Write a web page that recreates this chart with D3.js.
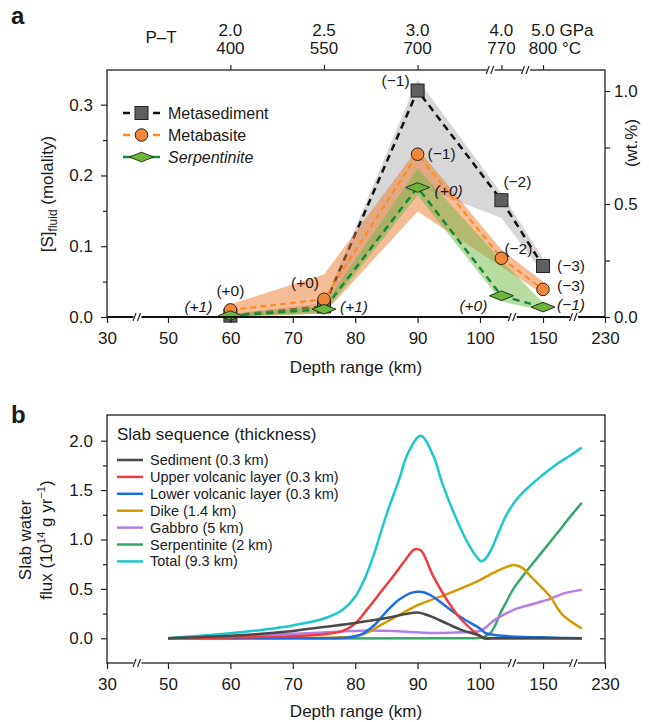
<!DOCTYPE html>
<html>
<head>
<meta charset="utf-8">
<script src="https://cdn.jsdelivr.net/npm/d3@7"></script>
<style>
  body { margin: 0; background: #fff; }
  svg { display: block; }
  text { font-family: "Liberation Sans", Arial, Helvetica, sans-serif; fill: #1a1a1a; }
</style>
</head>
<body>
<svg id="chart" width="649" height="722"></svg>
<script>
/* Two panels sharing a broken depth axis.
   a: sulfur concentration in slab fluids (three lithologies, with ranges)
   b: slab water flux per layer of the slab sequence                      */

// shared depth axis
var depthTicks = [30, 50, 60, 70, 80, 90, 100, 150, 230];
var depthBreaks = [40, 126, 190];

// panel a: depth of each P-T condition
var depthA = [60, 75, 90, 117, 150];
var pressureLbl = ['2.0', '2.5', '3.0', '4.0', '5.0'];
var tempLbl = ['400', '550', '700', '770', '800'];
var topBreaks = [108.5, 136.5];

var metased   = [0.002, 0.015, 0.320, 0.165, 0.072];
var metasedLo = [0.000, 0.008, 0.185, 0.140, 0.062];
var metasedHi = [0.004, 0.020, 0.336, 0.175, 0.083];
var metabas   = [0.010, 0.025, 0.230, 0.083, 0.039];
var metabasLo = [0.000, 0.005, 0.149, 0.071, 0.032];
var metabasHi = [0.018, 0.060, 0.238, 0.095, 0.050];
var serp      = [0.002, 0.011, 0.183, 0.030, 0.014];
var serpLo    = [0.000, 0.005, 0.172, 0.022, 0.009];
var serpHi    = [0.004, 0.016, 0.210, 0.080, 0.020];

var metasedCharge = [null, null, '(\u22121)', '(\u22122)', '(\u22123)'];
var metabasCharge = ['(+0)', '(+0)', '(\u22121)', '(\u22122)', '(\u22123)'];
var serpCharge    = ['(+1)', '(+1)', '(+0)', '(+0)', '(\u22121)'];

// panel b: slab water flux (10^14 g/yr)
var sedDepth = [50, 60, 65, 70, 75, 80, 85, 88, 90, 92, 95, 97, 100, 103, 110, 150, 200];
var sedFlux  = [0, 0.025, 0.045, 0.075, 0.115, 0.155, 0.205, 0.245, 0.262, 0.225, 0.14, 0.085, 0.025, 0, 0, 0, 0];
var uvlDepth = [50, 60, 70, 75, 78, 80, 82, 84, 86, 88, 89.5, 90.5, 92.5, 95, 97, 99, 101, 104, 110, 150, 200];
var uvlFlux  = [0, 0.008, 0.022, 0.04, 0.075, 0.15, 0.3, 0.46, 0.62, 0.79, 0.9, 0.89, 0.63, 0.36, 0.19, 0.07, 0.015, 0, 0, 0, 0];
var lvlDepth = [50, 70, 79, 81, 83, 85, 87, 89, 90.5, 92, 94, 97, 100, 104, 113, 130, 150, 175, 200];
var lvlFlux  = [0, 0.003, 0.008, 0.04, 0.13, 0.27, 0.39, 0.46, 0.47, 0.44, 0.35, 0.21, 0.10, 0.055, 0.03, 0.015, 0.01, 0.004, 0];
var dikeDepth = [50, 70, 78, 80, 82, 84, 86, 88, 90, 95, 100, 108, 116, 124, 128, 134, 140, 150, 159, 175, 200];
var dikeFlux  = [0, 0.003, 0.01, 0.02, 0.06, 0.13, 0.2, 0.27, 0.335, 0.455, 0.59, 0.645, 0.695, 0.735, 0.74, 0.71, 0.63, 0.5, 0.425, 0.24, 0.1];
var gabDepth = [50, 60, 70, 78, 82, 86, 90, 93, 97, 100, 103, 106, 110, 116, 122, 129, 140, 150, 159, 175, 200];
var gabFlux  = [0, 0.02, 0.045, 0.07, 0.08, 0.075, 0.06, 0.054, 0.06, 0.075, 0.095, 0.125, 0.17, 0.22, 0.26, 0.30, 0.34, 0.377, 0.398, 0.45, 0.49];
var serpDepth = [50, 95, 100, 104, 108, 112, 116, 121, 126, 134, 142, 150, 168, 185, 200];
var serpFlux  = [0, 0, 0.005, 0.02, 0.05, 0.13, 0.25, 0.37, 0.49, 0.63, 0.76, 0.885, 1.06, 1.23, 1.37];
var totDepth = [50, 55, 60, 65, 70, 75, 78, 80, 81.5, 83, 85, 87, 88.5, 90.5, 92.5, 94, 96, 98, 99.5, 101, 104, 109, 115, 121, 130, 142, 150, 168, 185, 200];
var totFlux  = [0, 0.025, 0.05, 0.085, 0.13, 0.2, 0.29, 0.42, 0.6, 0.85, 1.25, 1.6, 1.88, 2.05, 1.85, 1.56, 1.24, 0.97, 0.82, 0.78, 0.80, 0.90, 1.08, 1.25, 1.42, 1.57, 1.655, 1.765, 1.85, 1.93];

var layerNames = ['Sediment (0.3 km)', 'Upper volcanic layer (0.3 km)', 'Lower volcanic layer (0.3 km)',
  'Dike (1.4 km)', 'Gabbro (5 km)', 'Serpentinite (2 km)', 'Total (9.3 km)'];

(function () {
  'use strict';
  var svg = d3.select('#chart');
  var INK = '#1a1a1a';

  var x = d3.scaleLinear().domain([30, 50, 100, 150, 230]).range([107, 168, 480, 543, 605]);

  function styleAxis(g) {
    g.select('.domain').remove();
    g.selectAll('line').attr('stroke', '#222').attr('stroke-width', 1.2);
    g.selectAll('text').attr('font-size', 17).style('fill', INK);
  }

  function breakMark(g, xp, yp) {
    g.append('rect').attr('x', xp - 4).attr('y', yp - 3).attr('width', 8).attr('height', 6).attr('fill', '#fff');
    [-3, 1.5].forEach(function (o) {
      g.append('line')
        .attr('x1', xp + o - 1.5).attr('y1', yp + 4)
        .attr('x2', xp + o + 1.5).attr('y2', yp - 4)
        .attr('stroke', '#222').attr('stroke-width', 1.2);
    });
  }

  function frame(top, bottom) {
    svg.append('rect')
      .attr('x', x.range()[0]).attr('y', top)
      .attr('width', x.range()[4] - x.range()[0]).attr('height', bottom - top)
      .attr('fill', 'none').attr('stroke', '#222').attr('stroke-width', 1.3);
  }

  /* ---------------- panel a ---------------- */
  var ya = d3.scaleLinear().domain([0, 0.349]).range([317, 70]);
  var yw = d3.scaleLinear().domain([0, 1.093]).range([317, 70]);
  var ga = svg.append('g');

  var seriesA = [
    { vals: metased, lo: metasedLo, hi: metasedHi, charge: metasedCharge,
      band: '#bdbdbd', bandOp: 0.6, line: '#111', dash: '7,5', lw: 2.5, italic: false,
      marker: 'square', fill: '#5f5f5f',
      lab: [null, null, [-8, -5, 'end'], [2, -13, 'start'], [14, 5, 'start']] },
    { vals: metabas, lo: metabasLo, hi: metabasHi, charge: metabasCharge,
      band: '#ee7a2e', bandOp: 0.5, line: '#ff8a1a', dash: '6,4', lw: 2, italic: false,
      marker: 'circle', fill: '#f0873a',
      lab: [[0, -14, 'middle'], [-19, -11, 'middle'], [10, 5, 'start'], [3, -4, 'start'], [14, 2, 'start']] },
    { vals: serp, lo: serpLo, hi: serpHi, charge: serpCharge,
      band: '#72b744', bandOp: 0.5, line: '#17893a', dash: '7,5', lw: 2.5, italic: true,
      marker: 'diamond', fill: '#6cb43f',
      lab: [[-18, -4, 'end'], [16, 3, 'start'], [17, 9, 'start'], [-14, 15, 'end'], [14, 3, 'start']] }
  ];

  // bands and dashed lines, in stacking order
  seriesA.forEach(function (s) {
    var area = d3.area()
      .x(function (d, i) { return x(depthA[i]); })
      .y0(function (d, i) { return ya(s.lo[i]); })
      .y1(function (d, i) { return ya(s.hi[i]); });
    ga.append('path').datum(s.vals).attr('d', area)
      .attr('fill', s.band).attr('fill-opacity', s.bandOp);
    var line = d3.line()
      .x(function (d, i) { return x(depthA[i]); })
      .y(function (d) { return ya(d); });
    ga.append('path').datum(s.vals).attr('d', line)
      .attr('fill', 'none').attr('stroke', s.line).attr('stroke-width', s.lw)
      .attr('stroke-dasharray', s.dash);
  });

  function drawMarker(g, type, cx, cy, fill) {
    if (type === 'square') {
      g.append('rect').attr('x', cx - 6.5).attr('y', cy - 6.5).attr('width', 13).attr('height', 13)
        .attr('fill', fill).attr('stroke', '#222').attr('stroke-width', 1);
    } else if (type === 'circle') {
      g.append('circle').attr('cx', cx).attr('cy', cy).attr('r', 6.3)
        .attr('fill', fill).attr('stroke', '#3a2410').attr('stroke-width', 1);
    } else {
      g.append('path').attr('d', 'M' + (cx - 12) + ',' + cy + 'L' + cx + ',' + (cy - 4.8) +
        'L' + (cx + 12) + ',' + cy + 'L' + cx + ',' + (cy + 4.8) + 'Z')
        .attr('fill', fill).attr('stroke', '#1f3a12').attr('stroke-width', 1);
    }
  }

  seriesA.forEach(function (s) {
    s.vals.forEach(function (v, i) {
      drawMarker(ga, s.marker, x(depthA[i]), ya(v), s.fill);
    });
  });

  // charge annotations
  seriesA.forEach(function (s) {
    s.vals.forEach(function (v, i) {
      if (!s.charge[i]) return;
      var p = s.lab[i];
      ga.append('text')
        .attr('x', x(depthA[i]) + p[0]).attr('y', ya(v) + p[1])
        .attr('text-anchor', p[2]).attr('font-size', 15.5)
        .style('font-style', s.italic ? 'italic' : 'normal')
        .text(s.charge[i]);
    });
  });

  frame(70, 317);

  // left axis (molality)
  svg.append('g').attr('transform', 'translate(107,0)')
    .call(d3.axisLeft(ya).tickValues([0, 0.1, 0.2, 0.3]).tickSize(6).tickPadding(8).tickFormat(d3.format('.1f')))
    .call(styleAxis);
  svg.append('g').attr('transform', 'translate(107,0)')
    .call(d3.axisLeft(ya).tickValues([0.05, 0.15, 0.25]).tickSize(4).tickFormat(''))
    .call(styleAxis);
  // right axis (wt.%)
  svg.append('g').attr('transform', 'translate(605,0)')
    .call(d3.axisRight(yw).tickValues([0, 0.5, 1.0]).tickSize(5).tickPadding(4).tickFormat(d3.format('.1f')))
    .call(styleAxis);
  svg.append('g').attr('transform', 'translate(605,0)')
    .call(d3.axisRight(yw).tickValues([0.25, 0.75]).tickSize(5).tickFormat(''))
    .call(styleAxis);
  // bottom depth axis
  svg.append('g').attr('transform', 'translate(0,317)')
    .call(d3.axisBottom(x).tickValues(depthTicks).tickSize(6).tickPadding(9).tickFormat(d3.format('d')))
    .call(styleAxis);
  svg.append('line').attr('x1', 107).attr('x2', 605).attr('y1', 317).attr('y2', 317)
    .attr('stroke', '#111').attr('stroke-width', 2);
  depthBreaks.forEach(function (d) { breakMark(svg, x(d), 317); });

  // top P-T axis
  svg.append('g').attr('transform', 'translate(0,70)')
    .call(d3.axisTop(x).tickValues(depthA).tickSize(5).tickFormat(''))
    .call(styleAxis);
  topBreaks.forEach(function (d) { breakMark(svg, x(d), 70); });

  function unitLabel(txt, unit, xp, yp) {
    var t = svg.append('text').attr('x', xp).attr('y', yp).attr('font-size', 17).text(txt);
    var w = t.node().getComputedTextLength();
    if (unit) {
      t.attr('x', xp - w / 2).text(txt + ' ' + unit);
    } else {
      t.attr('text-anchor', 'middle');
    }
  }
  depthA.forEach(function (d, i) {
    var last = i === depthA.length - 1;
    unitLabel(pressureLbl[i], last ? 'GPa' : null, x(d), 36);
    unitLabel(tempLbl[i], last ? '\u00b0C' : null, x(d), 54);
  });
  svg.append('text').attr('x', 161).attr('y', 43).attr('text-anchor', 'middle')
    .attr('font-size', 17).text('P\u2013T');

  // legend a
  var legA = svg.append('g');
  seriesA.forEach(function (s, i) {
    var cy = 113 + i * 22;
    if (s.marker === 'diamond') {
      legA.append('line').attr('x1', 123).attr('x2', 160).attr('y1', cy).attr('y2', cy)
        .attr('stroke', s.line).attr('stroke-width', 2.5);
    } else {
      [[123, 130], [153, 160]].forEach(function (seg) {
        legA.append('line').attr('x1', seg[0]).attr('x2', seg[1]).attr('y1', cy).attr('y2', cy)
          .attr('stroke', s.line).attr('stroke-width', 2.5);
      });
    }
    drawMarker(legA, s.marker, 141.5, cy, s.fill);
  });
  ['Metasediment', 'Metabasite', 'Serpentinite'].forEach(function (n, i) {
    legA.append('text').attr('x', 168).attr('y', 119 + i * 22).attr('font-size', 16)
      .style('font-style', i === 2 ? 'italic' : 'normal').text(n);
  });

  // axis titles a
  var yl = svg.append('text').attr('transform', 'translate(53,194) rotate(-90)')
    .attr('text-anchor', 'middle').attr('font-size', 17);
  yl.append('tspan').text('[S]');
  yl.append('tspan').attr('font-size', 12).attr('dy', 4).text('fluid');
  yl.append('tspan').attr('dy', -4).text(' (molality)');
  svg.append('text').attr('transform', 'translate(637,143) rotate(-90)')
    .attr('text-anchor', 'middle').attr('font-size', 17).text('(wt.%)');
  svg.append('text').attr('x', 356).attr('y', 373).attr('text-anchor', 'middle')
    .attr('font-size', 17).text('Depth range (km)');

  svg.append('text').attr('x', 11).attr('y', 24).attr('font-size', 24)
    .attr('font-weight', 'bold').text('a');

  /* ---------------- panel b ---------------- */
  var yb = d3.scaleLinear().domain([-0.25, 2.26]).range([663, 415]);
  var seriesB = [
    { d: serpDepth, v: serpFlux, c: '#35a86a', leg: 5 },
    { d: gabDepth, v: gabFlux, c: '#b57ee6', leg: 4 },
    { d: dikeDepth, v: dikeFlux, c: '#d49b00', leg: 3 },
    { d: lvlDepth, v: lvlFlux, c: '#1b6fe0', leg: 2 },
    { d: uvlDepth, v: uvlFlux, c: '#f03c3c', leg: 1 },
    { d: totDepth, v: totFlux, c: '#1cc8cc', leg: 6 },
    { d: sedDepth, v: sedFlux, c: '#4a4a4a', leg: 0 }
  ];
  var gb = svg.append('g');
  seriesB.forEach(function (s) {
    var line = d3.line()
      .x(function (d, i) { return x(s.d[i]); })
      .y(function (d) { return yb(d); })
      .curve(d3.curveCatmullRom.alpha(0.5));
    gb.append('path').datum(s.v).attr('d', line)
      .attr('fill', 'none').attr('stroke', s.c).attr('stroke-width', 2.5)
      .attr('stroke-linejoin', 'round');
  });

  frame(415, 663);
  svg.append('g').attr('transform', 'translate(107,0)')
    .call(d3.axisLeft(yb).tickValues([0, 0.5, 1.0, 1.5, 2.0]).tickSize(6).tickPadding(8).tickFormat(d3.format('.1f')))
    .call(styleAxis);
  svg.append('g').attr('transform', 'translate(107,0)')
    .call(d3.axisLeft(yb).tickValues([0.25, 0.75, 1.25, 1.75]).tickSize(4).tickFormat(''))
    .call(styleAxis);
  svg.append('g').attr('transform', 'translate(605,0)')
    .call(d3.axisLeft(yb).tickValues([0, 0.25, 0.5, 0.75, 1.0, 1.25, 1.5, 1.75, 2.0]).tickSize(5).tickFormat(''))
    .call(styleAxis);
  svg.append('g').attr('transform', 'translate(0,663)')
    .call(d3.axisBottom(x).tickValues(depthTicks).tickSize(6).tickPadding(9).tickFormat(d3.format('d')))
    .call(styleAxis);
  depthBreaks.forEach(function (d) { breakMark(svg, x(d), 663); });

  // legend b
  var legB = svg.append('g');
  legB.append('text').attr('x', 117).attr('y', 440).attr('font-size', 17).text('Slab sequence (thickness)');
  seriesB.forEach(function (s) {
    var by = 465 + s.leg * 16.9;
    legB.append('line').attr('x1', 117).attr('x2', 143).attr('y1', by - 5).attr('y2', by - 5)
      .attr('stroke', s.c).attr('stroke-width', 2.5);
    legB.append('text').attr('x', 150).attr('y', by).attr('font-size', 14.5).text(layerNames[s.leg]);
  });

  // axis titles b
  svg.append('text').attr('transform', 'translate(31,540) rotate(-90)')
    .attr('text-anchor', 'middle').attr('font-size', 17).text('Slab water');
  var fl = svg.append('text').attr('transform', 'translate(52,540) rotate(-90)')
    .attr('text-anchor', 'middle').attr('font-size', 17);
  fl.append('tspan').text('flux (10');
  fl.append('tspan').attr('font-size', 11).attr('dy', -7).text('14');
  fl.append('tspan').attr('dy', 7).text(' g yr');
  fl.append('tspan').attr('font-size', 11).attr('dy', -7).text('\u22121');
  fl.append('tspan').attr('dy', 7).text(')');
  svg.append('text').attr('x', 356).attr('y', 717).attr('text-anchor', 'middle')
    .attr('font-size', 17).text('Depth range (km)');

  svg.append('text').attr('x', 11).attr('y', 423).attr('font-size', 24)
    .attr('font-weight', 'bold').text('b');
})();
</script>
</body>
</html>
